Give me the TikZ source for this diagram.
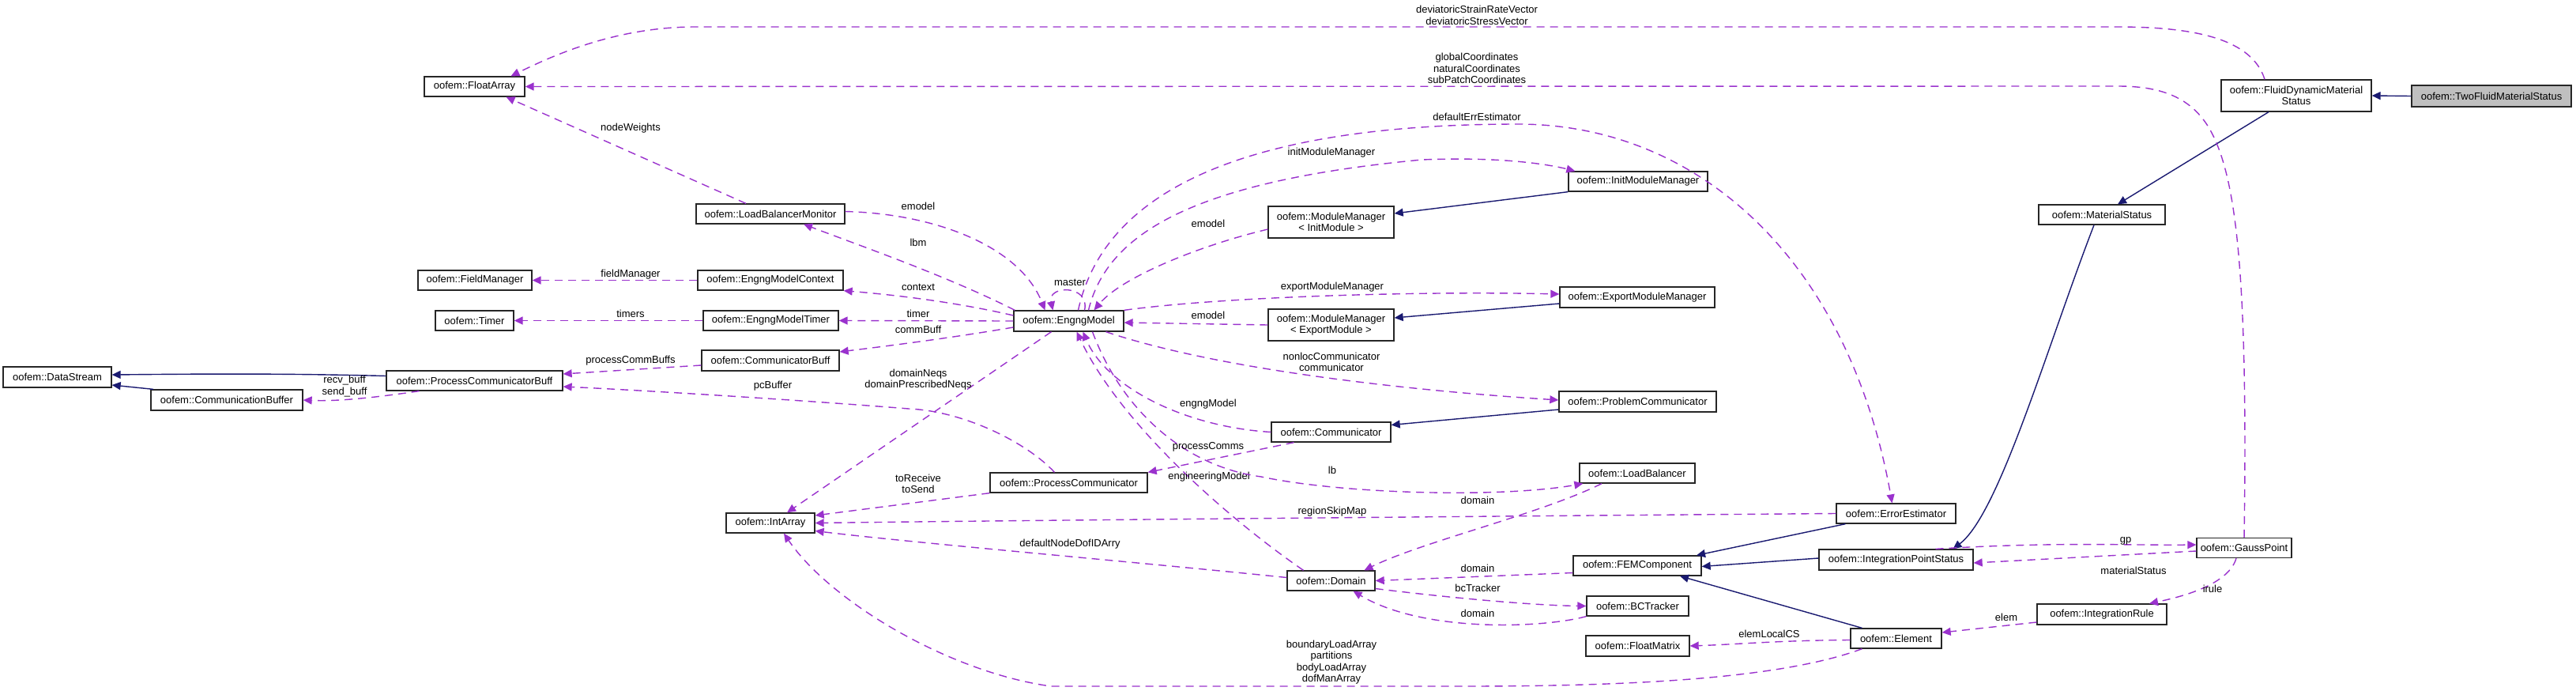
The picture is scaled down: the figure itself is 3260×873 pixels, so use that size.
\documentclass[tikz,border=0pt]{standalone}
\usepackage{fontspec}
\setmainfont{Liberation Sans}
\usetikzlibrary{arrows.meta}
\definecolor{purp}{HTML}{9A32CD}
\definecolor{navyb}{HTML}{191970}
\definecolor{grayf}{HTML}{BFBFBF}
\newcommand{\dfont}{\fontsize{13}{14.5}\selectfont}
\begin{document}
\begin{tikzpicture}[x=1pt,y=-1pt,
  cls/.style={draw=black!85, line width=1.3pt, fill=white, inner sep=0pt, font=\dfont, align=center},
  usea/.style={draw=purp, line width=1.4pt, dash pattern=on 10pt off 7pt, -{Triangle[length=11pt,width=10pt]}, shorten >=0pt},
  inh/.style={draw=navyb, line width=1.4pt, -{Triangle[length=11pt,width=10pt]}},
  lbl/.style={font=\dfont, inner sep=0pt, align=center, text=black}]
\useasboundingbox (0,0) rectangle (3260,873);
% ---------- nodes ----------
\node[cls, minimum width=127pt, minimum height=25pt] (FA) at (600.5,109.5) {oofem::FloatArray};
\node[cls, minimum width=144pt, minimum height=25pt] (FM) at (601,354.5) {oofem::FieldManager};
\node[cls, minimum width=99pt, minimum height=25pt] (TM) at (600.5,405.5) {oofem::Timer};
\node[cls, minimum width=137pt, minimum height=26pt] (DS) at (72.5,477) {oofem::DataStream};
\node[cls, minimum width=192pt, minimum height=26pt] (CBuf) at (287,506) {oofem::CommunicationBuffer};
\node[cls, minimum width=223pt, minimum height=25pt] (PCB) at (600.5,481.5) {oofem::ProcessCommunicatorBuff};
\node[cls, minimum width=188pt, minimum height=25pt] (LBM) at (975,270.5) {oofem::LoadBalancerMonitor};
\node[cls, minimum width=184pt, minimum height=25pt] (EMC) at (975,354.5) {oofem::EngngModelContext};
\node[cls, minimum width=171pt, minimum height=25pt] (EMT) at (975.5,405.5) {oofem::EngngModelTimer};
\node[cls, minimum width=174pt, minimum height=26pt] (CB) at (975,456) {oofem::CommunicatorBuff};
\node[cls, minimum width=112pt, minimum height=25pt] (IA) at (975,661.5) {oofem::IntArray};
\node[cls, minimum width=139pt, minimum height=26pt] (EM) at (1352.5,406) {oofem::EngngModel};
\node[cls, minimum width=159pt, minimum height=40pt] (MMI) at (1684.5,281) {oofem::ModuleManager\\{}< InitModule >};
\node[cls, minimum width=159pt, minimum height=40pt] (MME) at (1684.5,411) {oofem::ModuleManager\\{}< ExportModule >};
\node[cls, minimum width=151pt, minimum height=25pt] (COM) at (1684.5,546.5) {oofem::Communicator};
\node[cls, minimum width=199pt, minimum height=25pt] (PC) at (1352.5,610.5) {oofem::ProcessCommunicator};
\node[cls, minimum width=111pt, minimum height=25pt] (DOM) at (1684.5,734.5) {oofem::Domain};
\node[cls, minimum width=190pt, minimum height=40pt] (FDMS) at (2906,121) {oofem::FluidDynamicMaterial\\Status};
\node[cls, fill=grayf, minimum width=202pt, minimum height=27pt] (TF) at (3153,121.5) {oofem::TwoFluidMaterialStatus};
\node[cls, minimum width=176pt, minimum height=25pt] (IMM) at (2073,229.5) {oofem::InitModuleManager};
\node[cls, minimum width=196pt, minimum height=26pt] (EMM) at (2072,376) {oofem::ExportModuleManager};
\node[cls, minimum width=199pt, minimum height=26pt] (PRC) at (2072.5,508) {oofem::ProblemCommunicator};
\node[cls, minimum width=146pt, minimum height=25pt] (LB) at (2072,598.5) {oofem::LoadBalancer};
\node[cls, minimum width=151pt, minimum height=25pt] (EE) at (2399.5,649.5) {oofem::ErrorEstimator};
\node[cls, minimum width=162pt, minimum height=25pt] (FEM) at (2072,715.5) {oofem::FEMComponent};
\node[cls, minimum width=195pt, minimum height=26pt] (IPS) at (2399.5,708) {oofem::IntegrationPointStatus};
\node[cls, minimum width=129pt, minimum height=25pt] (BCT) at (2072.5,766.5) {oofem::BCTracker};
\node[cls, minimum width=131pt, minimum height=26pt] (FMX) at (2072.5,817) {oofem::FloatMatrix};
\node[cls, minimum width=115pt, minimum height=25pt] (EL) at (2399.5,807.5) {oofem::Element};
\node[cls, minimum width=160pt, minimum height=25pt] (MS) at (2660,271.5) {oofem::MaterialStatus};
\node[cls, minimum width=120pt, minimum height=25pt] (GP) at (2840,693) {oofem::GaussPoint};
\node[cls, minimum width=164pt, minimum height=26pt] (IR) at (2660,777) {oofem::IntegrationRule};
% ---------- inheritance ----------
\draw[inh] (TF.west) -- (FDMS.east);
\draw[inh] ([xshift=-35pt]FDMS.south) -- ([xshift=20pt]MS.north);
\draw[inh] ([xshift=-10pt]MS.south) .. controls (2590,440) and (2530,650) .. ([xshift=72pt]IPS.north);
\draw[inh] ([yshift=2pt]IPS.west) -- ([yshift=-1pt]FEM.east);
\draw[inh] ([xshift=-64pt]EE.south) -- ([xshift=75pt]FEM.north);
\draw[inh] ([xshift=-43pt]EL.north) -- ([xshift=54pt]FEM.south);
\draw[inh] (IMM.south west) -- ([yshift=11pt]MMI.east);
\draw[inh] ([yshift=-8pt]EMM.west) -- ([yshift=9pt]MME.east);
\draw[inh] ([yshift=-10pt]PRC.west) -- ([yshift=9pt]COM.east);
\draw[inh] ([yshift=6pt]PCB.west) .. controls (350,472) and (250,473) .. ([yshift=3pt]DS.east);
\draw[inh] ([xshift=-93pt]CBuf.north) -- ([yshift=-10pt]DS.east);
% ---------- usage ----------
\draw[usea] ([xshift=-40pt]FDMS.north) .. controls (2850,50) and (2780,34) .. (2680,34) -- (880,34) .. controls (780,34) and (700,70) .. ([xshift=46pt]FA.north);
\node[lbl] at (1869,19.5) {deviatoricStrainRateVector\\deviatoricStressVector};
\draw[usea] (GP.north) .. controls (2845,350) and (2830,230) .. (2800,170) .. controls (2775,120) and (2730,109) .. (2680,109) -- (FA.east);
\node[lbl] at (1869,86.5) {globalCoordinates\\naturalCoordinates\\subPatchCoordinates};
\draw[usea] ([xshift=-31pt]LBM.north) -- ([xshift=40pt]FA.south);
\node[lbl] at (798,162) {nodeWeights};
\draw[usea] ([yshift=3pt]LBM.east) .. controls (1180,270) and (1290,310) .. ([xshift=-30pt]EM.north);
\node[lbl] at (1162,261) {emodel};
\draw[usea] ([xshift=2pt]EM.north west) .. controls (1200,350) and (1100,315) .. ([xshift=42pt]LBM.south);
\node[lbl] at (1162,307) {lbm};
\draw[usea] ([yshift=7pt]EM.west) .. controls (1200,380) and (1120,372) .. (EMC.south east);
\node[lbl] at (1162,363) {context};
\draw[usea] (EM.west) -- (EMT.east);
\node[lbl] at (1162,397) {timer};
\draw[usea] ([yshift=-8pt]EM.west) .. controls (1200,428) and (1120,438) .. ([yshift=11pt]CB.east);
\node[lbl] at (1162,417) {commBuff};
\draw[usea] (EMC.west) -- (FM.east);
\node[lbl] at (798,347) {fieldManager};
\draw[usea] (EMT.west) -- (TM.east);
\node[lbl] at (798,397) {timers};
\draw[usea] ([yshift=-6pt]CB.west) -- ([yshift=8.5pt]PCB.east);
\node[lbl] at (798,456) {processCommBuffs};
\draw[usea] ([xshift=-18pt]PC.north) .. controls (1300,560) and (1220,520) .. (1150,517) .. controls (1000,505) and (800,493) .. ([yshift=-7.5pt]PCB.east);
\node[lbl] at (978,488) {pcBuffer};
\draw[usea] ([xshift=-70pt]PCB.south) .. controls (480,502) and (430,508) .. (CBuf.east);
\node[lbl] at (436,488.5) {recv\_buff\\send\_buff};
\draw[usea] ([xshift=-22pt]EM.south) -- ([xshift=21pt]IA.north);
\node[lbl] at (1162,480) {domainNeqs\\domainPrescribedNeqs};
\draw[usea] (PC.south west) -- ([yshift=9.5pt]IA.east);
\node[lbl] at (1162,612) {toReceive\\toSend};
\draw[usea] (EE.west) .. controls (2000,652) and (1300,658) .. (IA.east);
\node[lbl] at (1686,647) {regionSkipMap};
\draw[usea] ([yshift=4pt]DOM.west) .. controls (1450,712) and (1150,686) .. ([yshift=-10pt]IA.east);
\node[lbl] at (1354,688) {defaultNodeDofIDArry};
\draw[usea] ([xshift=-43pt]EL.south) .. controls (2250,860) and (2050,868) .. (1850,868) -- (1330,868) .. controls (1200,850) and (1050,760) .. ([xshift=17pt]IA.south);
\node[lbl] at (1685,837.5) {boundaryLoadArray\\partitions\\bodyLoadArray\\dofManArray};
\draw[usea] ([xshift=-35pt]DOM.north) .. controls (1560,660) and (1420,540) .. ([xshift=10pt]EM.south);
\node[lbl] at (1530,603) {engineeringModel};
\draw[usea] (COM.west) .. controls (1500,540) and (1400,490) .. ([xshift=18pt]EM.south);
\node[lbl] at (1529,511) {engngModel};
\draw[usea] ([xshift=30pt]EM.south) .. controls (1420,520) and (1500,590) .. (1596,603) .. controls (1700,625) and (1900,630) .. ([xshift=5pt]LB.south west);
\node[lbl] at (1686,595) {lb};
\draw[usea] ([xshift=-47pt]COM.south) -- (PC.north east);
\node[lbl] at (1529,565) {processComms};
\draw[usea] ([xshift=-45pt]LB.south) .. controls (1950,650) and (1800,685) .. ([xshift=42pt]DOM.north);
\node[lbl] at (1870,633) {domain};
\draw[usea] ([yshift=-9pt]MMI.west) .. controls (1520,310) and (1420,350) .. ([xshift=32pt]EM.north);
\node[lbl] at (1529,283) {emodel};
\draw[usea] (MME.west) -- ([yshift=-2pt]EM.east);
\node[lbl] at (1529,399) {emodel};
\draw[usea] (EM.north east) .. controls (1550,375) and (1800,368) .. ([yshift=4pt]EMM.west);
\node[lbl] at (1686,363) {exportModuleManager};
\draw[usea] ([xshift=25pt]EM.north) .. controls (1400,300) and (1500,230) .. (1800,202) .. controls (1900,198) and (1960,208) .. ([xshift=9pt]IMM.north west);
\node[lbl] at (1685,193) {initModuleManager};
\draw[usea] ([xshift=12pt]EM.north) .. controls (1400,230) and (1600,157) .. (1921,157) .. controls (2150,157) and (2340,330) .. ([xshift=-5pt]EE.north);
\node[lbl] at (1869,148) {defaultErrEstimator};
\draw[usea] ([xshift=47pt]EM.south) .. controls (1550,470) and (1800,495) .. ([yshift=2pt]PRC.west);
\node[lbl] at (1685,458) {nonlocCommunicator\\communicator};
\draw[usea] ([xshift=20pt]EM.north) .. controls (1380,360) and (1325,360) .. ([xshift=-20pt]EM.north);
\node[lbl] at (1354,357) {master};
\draw[usea] ([yshift=-10pt]DOM.east) .. controls (1850,758) and (1950,766) .. (BCT.west);
\node[lbl] at (1870,744) {bcTracker};
\draw[usea] (BCT.south west) .. controls (1950,795) and (1800,800) .. ([xshift=28pt]DOM.south);
\node[lbl] at (1870,776) {domain};
\draw[usea] ([yshift=-9pt]FEM.west) -- (DOM.east);
\node[lbl] at (1870,719) {domain};
\draw[usea] ([yshift=-2pt]EL.west) .. controls (2250,810) and (2200,815) .. (FMX.east);
\node[lbl] at (2239,802) {elemLocalCS};
\draw[usea] ([yshift=-10pt]IR.west) -- ([yshift=7.5pt]EL.east);
\node[lbl] at (2539,781) {elem};
\draw[usea] ([xshift=-10pt]GP.south) .. controls (2820,740) and (2760,755) .. ([xshift=60pt]IR.north);
\node[lbl] at (2800,745) {irule};
\draw[usea] ([yshift=-4pt]GP.west) -- ([yshift=-4pt]IPS.east);
\node[lbl] at (2700,722) {materialStatus};
\draw[usea] ([xshift=50pt]IPS.north) .. controls (2600,685) and (2700,690) .. ([yshift=4pt]GP.west);
\node[lbl] at (2690,684) {gp};
\end{tikzpicture}
\end{document}
